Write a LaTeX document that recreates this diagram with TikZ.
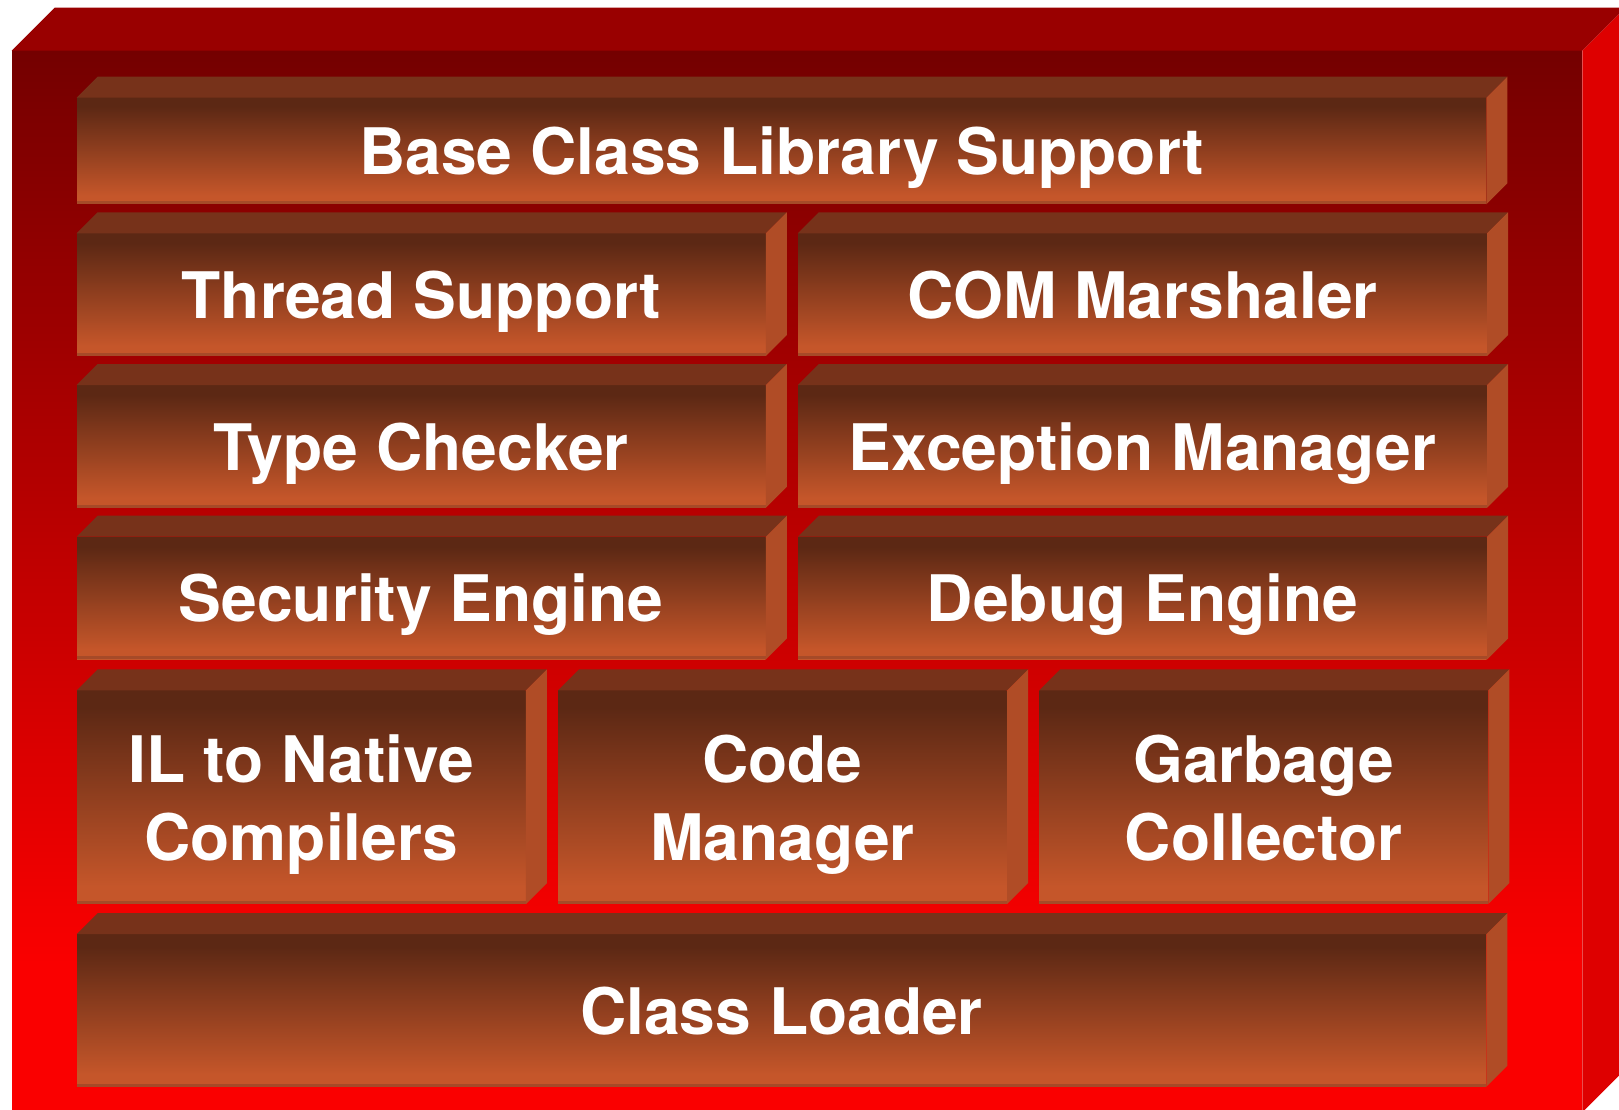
\documentclass[tikz,border=0pt]{standalone}
\usepackage{fontspec}
\setsansfont{TeX Gyre Heros}
\usetikzlibrary{positioning,calc}

% colours of the outer frame
\definecolor{frametop}{HTML}{990000}
\definecolor{frameside}{HTML}{DE0000}
\definecolor{framehi}{HTML}{740000}
\definecolor{framelo}{HTML}{FA0000}
% colours of the blocks
\definecolor{blocktop}{HTML}{77321A}
\definecolor{blockside}{HTML}{B04C26}
\definecolor{blockhi}{HTML}{5C2814}
\definecolor{blocklo}{HTML}{C5562A}
\definecolor{blockedge}{HTML}{A64A28}

\pgfdeclareverticalshading{framefront}{100bp}{color(0bp)=(framelo); color(32bp)=(framelo); color(75bp)=(framehi); color(100bp)=(framehi)}
\pgfdeclareverticalshading{blockfront}{100bp}{color(0bp)=(blocklo); color(29bp)=(blocklo); color(71bp)=(blockhi); color(100bp)=(blockhi)}

\begin{document}
\begin{tikzpicture}[
    node distance=0.58cm and 0.64cm,
    frameface/.style={rectangle, shade, shading=framefront, inner sep=0pt, minimum width=31.40cm, minimum height=21.22cm},
    block/.style={rectangle, shade, shading=blockfront, inner sep=0pt, minimum height=2.44cm, text=white, align=center, text depth=-0.08cm, font=\sffamily\bfseries\fontsize{36.5}{44.4}\selectfont},
    wide/.style={block, minimum width=28.18cm},
    half/.style={block, minimum width=13.77cm},
    third/.style={block, minimum width=8.97cm},
    blocktopface/.style={fill=blocktop},
    blocksideface/.style={fill=blockside},
    rim/.style={draw=blockedge, line width=0.06cm}
]
\useasboundingbox (0,0) rectangle (32.38,22.2);
\clip (0,0) rectangle (32.38,22.2);

% Outer frame
\node[frameface] (frame) at (15.94,10.57) {};
\fill[frametop] (frame.north west) -- ++(0.86,0.86) -- ($(frame.north east)+(0.86,0.86)$) -- (frame.north east) -- cycle;
\fill[frameside] (frame.north east) -- ++(0.86,0.86) -- ($(frame.south east)+(0.86,0.86)$) -- (frame.south east) -- cycle;

% Top row
\node[wide, minimum height=2.12cm] (bcl) at (15.63,19.18) {Base Class Library Support};

% Two-column rows
\node[half, below right=0.58cm and 0cm of bcl.south west] (thread) {Thread Support};
\node[half, right=of thread] (com) {COM Marshaler};
\node[half, below=of thread] (typechk) {Type Checker};
\node[half, right=of typechk] (exc) {Exception Manager};
\node[half, below=of typechk] (sec) {Security Engine};
\node[half, right=of sec] (dbg) {Debug Engine};

% Three-column row
\node[third, minimum height=4.26cm, below right=0.62cm and 0cm of sec.south west] (il) {IL to Native\\Compilers};
\node[third, minimum height=4.26cm, right=of il] (code) {Code\\Manager};
\node[third, minimum height=4.26cm, right=of code] (gc) {Garbage\\Collector};

% Bottom row
\node[wide, minimum height=3.04cm, below right=0.60cm and 0cm of il.south west] (loader) {Class Loader};

% top and side faces of every block
\foreach \b in {bcl,thread,com,typechk,exc,sec,dbg,il,code,gc,loader} {
  \fill[blocktopface] (\b.north west) -- ++(0.42,0.42) -- ($(\b.north east)+(0.42,0.42)$) -- (\b.north east) -- cycle;
  \fill[blocksideface] (\b.north east) -- ++(0.42,0.42) -- ($(\b.south east)+(0.42,0.42)$) -- (\b.south east) -- cycle;
  \draw[rim] ($(\b.south west)+(0,0.03)$) -- ($(\b.south east)+(0,0.03)$);
}

\end{tikzpicture}
\end{document}
